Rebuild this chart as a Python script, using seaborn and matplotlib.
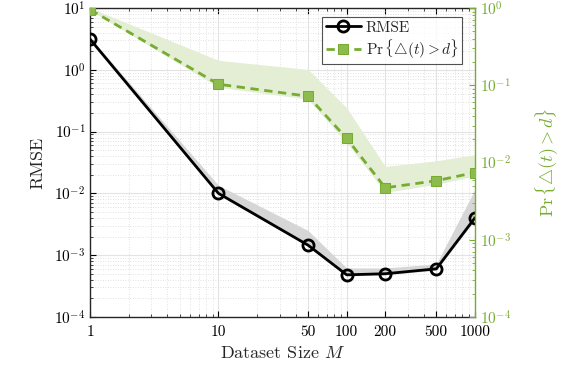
import numpy as np
import pandas as pd
import matplotlib
matplotlib.use("Agg")
import matplotlib.pyplot as plt
import seaborn as sns
from matplotlib.ticker import LogLocator, NullFormatter, FixedLocator, FixedFormatter

# ---- data ----
dataset_size = [1, 10, 50, 100, 200, 500, 1000]
x_tick_labels = ["1", "10", "50", "100", "200", "500", "1000"]
rmse = [3.1, 0.0100, 0.00145, 0.00048, 0.00050, 0.00060, 0.0040]
rmse_upper = [3.3, 0.0135, 0.0025, 0.00062, 0.00062, 0.00072, 0.0115]
rmse_lower = [2.9, 0.0095, 0.00138, 0.00046, 0.00048, 0.00057, 0.0037]
prob = [0.95, 0.103, 0.072, 0.0205, 0.0047, 0.0058, 0.0074]
prob_upper = [1.0, 0.21, 0.16, 0.051, 0.0089, 0.0105, 0.0126]
prob_lower = [0.93, 0.094, 0.066, 0.018, 0.0041, 0.0052, 0.0067]

green = "#77AC30"
green_fill = "#E3EED5"

sns.set_style("ticks")
plt.rcParams["font.family"] = ["cmr10", "DejaVu Serif"]
plt.rcParams["mathtext.fontset"] = "cm"
plt.rcParams["axes.formatter.use_mathtext"] = True
plt.rcParams["axes.unicode_minus"] = False

fig = plt.figure(figsize=(5.64, 3.80), dpi=100)
ax = fig.add_axes([0.16, 0.166, 0.682, 0.813])
ax2 = ax.twinx()

df = pd.DataFrame({"M": dataset_size, "rmse": rmse, "prob": prob})

# left axis: RMSE
ax.fill_between(dataset_size, rmse_lower, rmse_upper, color="#D6D6D6", lw=0, zorder=1)
sns.lineplot(data=df, x="M", y="rmse", ax=ax, color="black", lw=2.0, marker="o",
             markersize=8, markerfacecolor="none", markeredgecolor="black",
             markeredgewidth=2.0, zorder=3, label="RMSE", legend=False)

# right axis: probability
ax2.fill_between(dataset_size, prob_lower, prob_upper, color=green_fill, lw=0, zorder=1)
sns.lineplot(data=df, x="M", y="prob", ax=ax2, color=green, lw=2.0, marker="s",
             markersize=6.5, markerfacecolor=green, markeredgecolor=green,
             linestyle=(0, (3, 2)), zorder=3, label="prob", legend=False)
ax2.lines[-1].set_markerfacecolor("#8DBB4E")

for a in (ax, ax2):
    a.set_xscale("log")
    a.set_yscale("log")
ax.set_xlim(1, 1000)
ax.set_ylim(1e-4, 10)
ax2.set_ylim(1e-4, 1)

ax.xaxis.set_major_locator(FixedLocator(dataset_size))
ax.xaxis.set_major_formatter(FixedFormatter(x_tick_labels))
ax.xaxis.set_minor_locator(LogLocator(base=10, subs=np.arange(1, 10)))
ax.xaxis.set_minor_formatter(NullFormatter())
ax.yaxis.set_major_locator(LogLocator(base=10, numticks=10))
ax.yaxis.set_minor_locator(LogLocator(base=10, subs=np.arange(2, 10), numticks=20))
ax.yaxis.set_minor_formatter(NullFormatter())
ax2.yaxis.set_major_locator(LogLocator(base=10, numticks=10))
ax2.yaxis.set_minor_locator(LogLocator(base=10, subs=np.arange(2, 10), numticks=20))
ax2.yaxis.set_minor_formatter(NullFormatter())

# grid
ax.grid(True, which="major", color="#E3E3E3", lw=0.8)
ax.grid(True, which="minor", color="#D8D8D8", lw=0.6, linestyle=(0, (1, 2)))
ax.set_axisbelow(True)

ax.tick_params(axis="both", which="major", labelsize=11, direction="in", length=4,
               width=0.8, top=True, colors="black")
ax.tick_params(axis="both", which="minor", direction="in", length=2, top=True)
ax.tick_params(axis="x", pad=6)
ax2.tick_params(axis="y", which="major", labelsize=11, direction="in", length=4,
                colors=green)
ax2.tick_params(axis="y", which="minor", direction="in", length=2, colors=green)

for s in ["left", "bottom", "top"]:
    ax.spines[s].set_color("#262626")
    ax.spines[s].set_linewidth(1.0)
ax.spines["right"].set_visible(False)
ax2.spines["right"].set_color(green)
ax2.spines["right"].set_linewidth(1.0)
for s in ["left", "bottom", "top"]:
    ax2.spines[s].set_visible(False)

prob_label = r"$\mathrm{Pr}\,\{\bigtriangleup(t) > d\}$"
ax.set_xlabel(r"Dataset Size $M$", fontsize=13, labelpad=4)
ax.set_ylabel("RMSE", fontsize=13, labelpad=6)
ax2.set_ylabel(prob_label, fontsize=13, color=green, labelpad=16)

handles = ax.get_lines()[:1] + ax2.get_lines()[:1]
labels = ["RMSE", prob_label]
leg = ax2.legend(handles, labels, loc="upper right", bbox_to_anchor=(0.975, 0.98),
                 fontsize=11, frameon=True, fancybox=False, edgecolor="#262626",
                 handlelength=2.3, borderpad=0.25, labelspacing=0.15, handletextpad=0.3,
                 borderaxespad=0.2)
leg.get_frame().set_linewidth(0.8)
leg.set_zorder(10)

fig.savefig("out.png", dpi=100)
